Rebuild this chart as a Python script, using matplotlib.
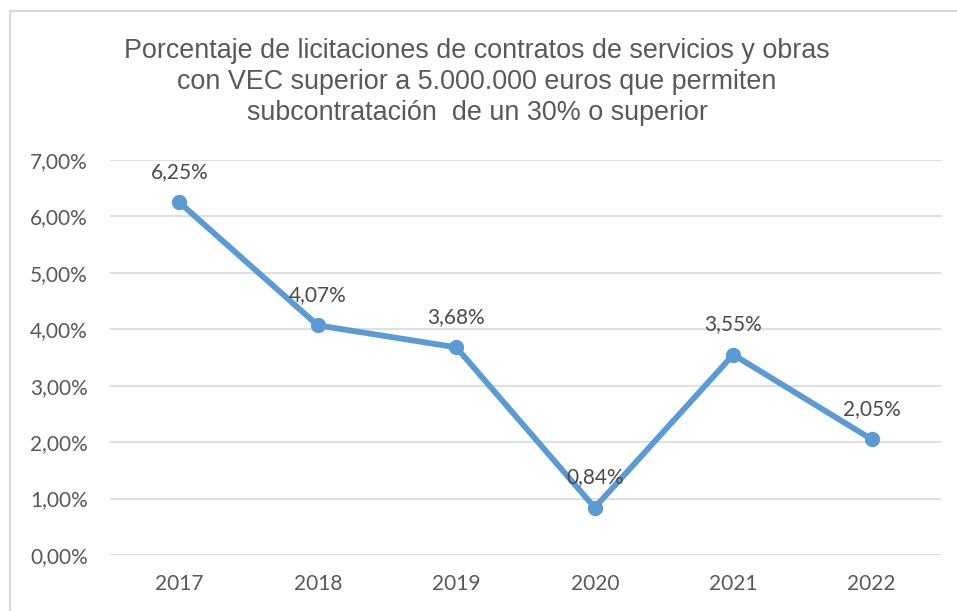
import matplotlib.pyplot as plt
from matplotlib.lines import Line2D
from matplotlib.ticker import FuncFormatter

years = ["2017", "2018", "2019", "2020", "2021", "2022"]
values = [0.0625, 0.0407, 0.0368, 0.0084, 0.0355, 0.0205]
labels = ["6,25%", "4,07%", "3,68%", "0,84%", "3,55%", "2,05%"]
title = ("Porcentaje de licitaciones de contratos de servicios y obras\n"
         "con VEC superior a 5.000.000 euros que permiten\n"
         "subcontratación  de un 30% o superior")


def pct(v, pos):
    return f"{v * 100:.2f}%".replace(".", ",")


fig = plt.figure(figsize=(9.57, 6.11), dpi=100)
ax = fig.add_axes([110 / 957, 1 - 555 / 611, (941 - 110) / 957, (555 - 160) / 611])

# chart border (top and left only visible in the crop)
fig.add_artist(Line2D([10 / 957, 10 / 957, 1], [0, 1 - 11 / 611, 1 - 11 / 611],
                      transform=fig.transFigure, color='#D9D9D9', linewidth=1.5))

x = list(range(len(years)))
ax.plot(x, values, color='#5B9BD5', linewidth=4.2, marker='o', markersize=10,
        solid_capstyle='round', solid_joinstyle='round', zorder=3)

for xi, v, lab in zip(x, values, labels):
    ax.annotate(lab, (xi, v), xytext=(0, 22), textcoords='offset points',
                ha='center', va='center', fontsize=15, family='Lato',
                color='#4a4a4a', zorder=4)

ax.set_xlim(-0.5, 5.5)
ax.set_ylim(0, 0.07)
ax.set_yticks([i / 100 for i in range(8)])
ax.yaxis.set_major_formatter(FuncFormatter(pct))
ax.set_xticks(x)
ax.set_xticklabels(years)

ax.grid(axis='y', color='#D9D9D9', linewidth=1.2)
ax.set_axisbelow(True)
for s in ax.spines.values():
    s.set_visible(False)
ax.tick_params(axis='both', length=0, labelsize=15, labelcolor='#595959')
ax.tick_params(axis='y', pad=16)
ax.tick_params(axis='x', pad=14)
for t in ax.get_xticklabels() + ax.get_yticklabels():
    t.set_family('Lato')

fig.text(477 / 957, 1 - 82 / 611, title, ha='center', va='center', fontsize=19.4,
         family='Liberation Sans', color='#595959', linespacing=1.27)

fig.savefig("out.png", dpi=100)
